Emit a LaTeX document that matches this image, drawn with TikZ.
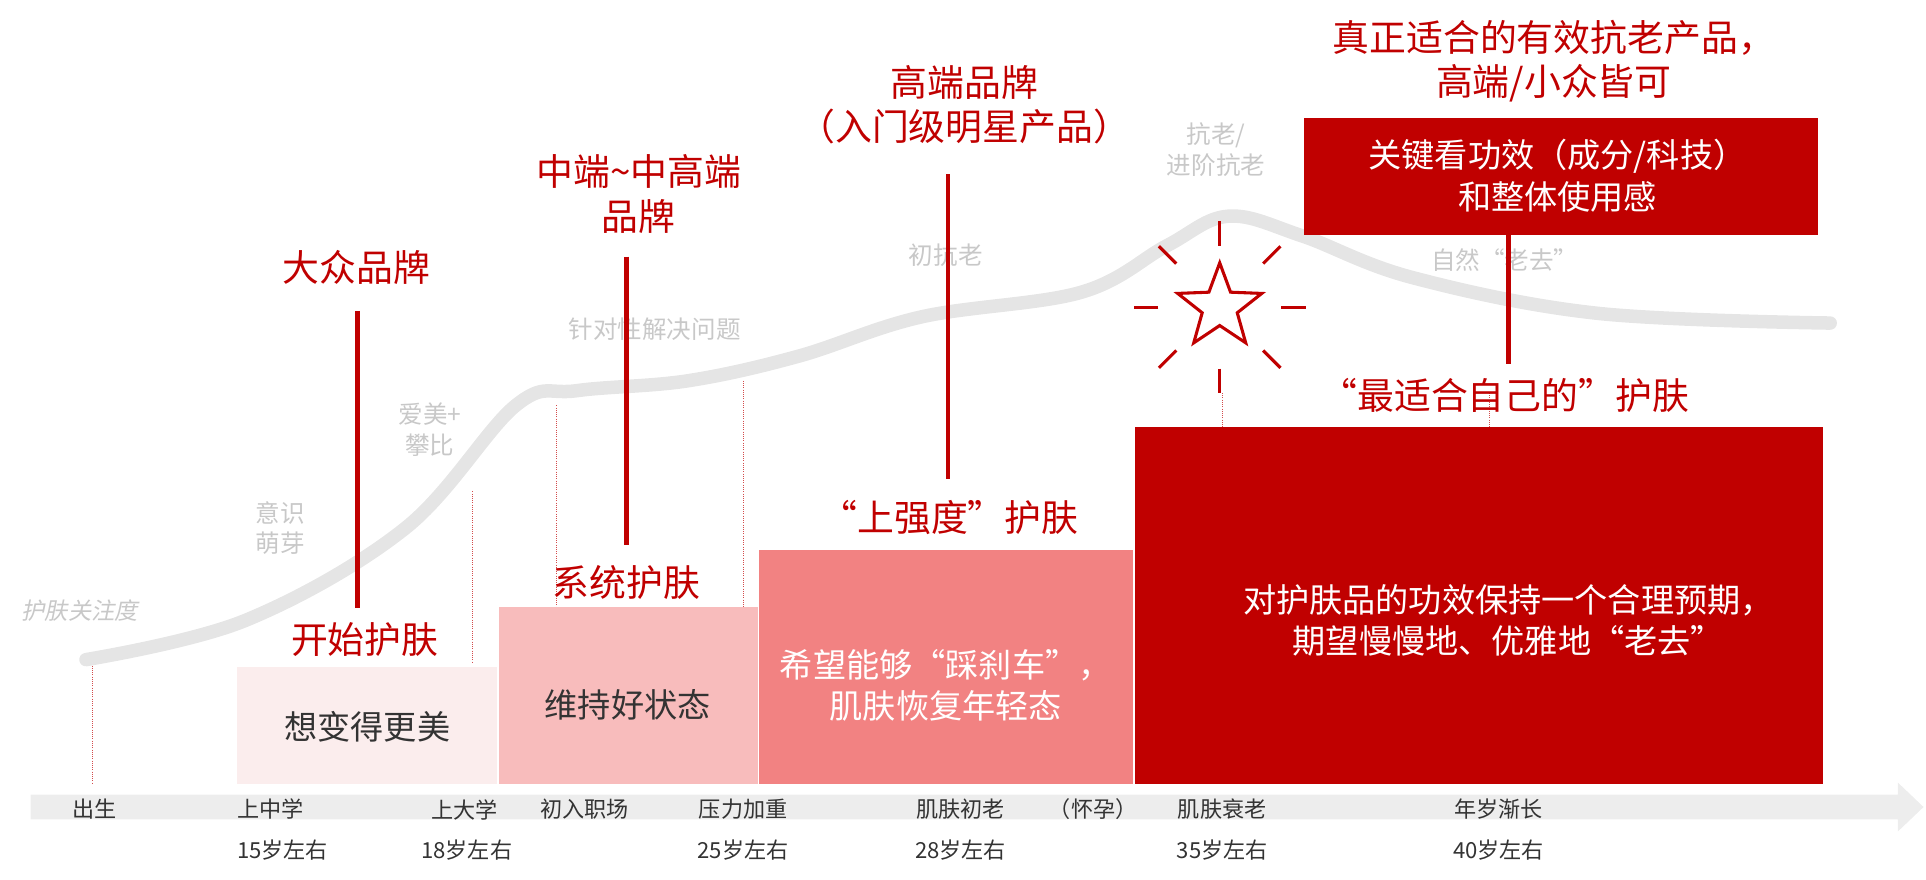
\documentclass[tikz,border=0pt]{standalone}
\usepackage{fontspec}
\setmainfont{Noto Sans CJK SC}
\newfontfamily\slantcjk[FakeSlant=0.2]{Noto Sans CJK SC}
\usetikzlibrary{shapes.geometric}
\definecolor{myred}{HTML}{C00000}
\definecolor{lg}{HTML}{C8C8C8}
\definecolor{pk1}{HTML}{F8BCBC}
\definecolor{pk2}{HTML}{F28282}
\begin{document}
\begin{tikzpicture}[x=1pt,y=-1pt,
 ax/.style={font=\fontsize{18}{20}\selectfont,text=black!80},
 gl/.style={font=\fontsize{20}{25}\selectfont,text=lg,align=center},
 rl/.style={font=\fontsize{30}{36}\selectfont,text=myred,align=center},
 bt/.style={font=\fontsize{27}{34}\selectfont,align=center},
 dl/.style={myred!70,densely dotted,line width=0.8pt},
 vl/.style={myred,line width=3.5pt}]
\useasboundingbox (0,0) rectangle (1568,716);
% axis
\fill[black!7] (25,647) -- (1545,647) -- (1545,637) -- (1566,657) -- (1545,677) -- (1545,667) -- (25,667) -- cycle;
\foreach \x/\t in {77/出生,220/上中学,378/上大学,476/初入职场,605/压力加重,782/肌肤初老,890/（怀孕）,995/肌肤衰老,1220/年岁渐长}
  \node[ax] at (\x,659) {\t};
\foreach \x/\t in {230/15岁左右,380/18岁左右,605/25岁左右,782/28岁左右,995/35岁左右,1220/40岁左右}
  \node[ax] at (\x,692) {\t};
% dotted lines
\foreach \x/\a/\b in {75/540/638,385/400/540,453/330/495,605/310/495,995/320/348,1213/320/348}
  \draw[dl] (\x,\a) -- (\x,\b);
% curve
\draw[black!10,line width=11pt,line cap=round] plot[smooth,tension=0.6] coordinates {(70,537) (200,505) (330,430) (420,330) (470,318) (560,310) (650,290) (750,258) (880,238) (950,200) (1000,176) (1060,192) (1150,226) (1300,255) (1490,263)};
% grey labels
\node[gl,font=\fontsize{19}{22}\selectfont\slantcjk] at (65,497) {护肤关注度};
\node[gl] at (228,430) {意识\\萌芽};
\node[gl] at (350,350) {爱美+\\攀比};
\node[gl] at (533,268) {针对性解决问题};
\node[gl] at (770,208) {初抗老};
\node[gl] at (990,122) {抗老/\\进阶抗老};
\node[gl] at (1225,212) {自然“老去”};
% boxes
\fill[myred!7] (193,543) rectangle (405,638);
\node[bt,text=black!80] (b1) at (299,592) {想变得更美};
\fill[pk1] (406,494) rectangle (617,638);
\node[bt,text=black!80] (b2) at (511,574) {维持好状态};
\fill[pk2] (618,448) rectangle (922,638);
\node[bt,text=white] (b3) at (770,558) {希望能够“踩刹车”，\\肌肤恢复年轻态};
\fill[myred] (924,348) rectangle (1484,638);
\node[bt,text=white] (b4) at (1228,505) {对护肤品的功效保持一个合理预期，\\期望慢慢地、优雅地“老去”};
\fill[myred] (1062,96) rectangle (1480,191);
\node[bt,text=white] (b5) at (1268,143) {关键看功效（成分/科技）\\和整体使用感};
% red labels
\node[rl] (l1) at (297,521) {开始护肤};
\node[rl] (l2) at (510,474) {系统护肤};
\node[rl] (l3) at (773,421) {“上强度”护肤};
\node[rl] (l4) at (1225,322) {“最适合自己的”护肤};
\node[rl] (t1) at (290,218) {大众品牌};
\node[rl] (t2) at (520,158) {中端\textasciitilde 中高端\\品牌};
\node[rl] (t3) at (785,85) {高端品牌\\（入门级明星产品）};
\node[rl] (t4) at (1265,50) {真正适合的有效抗老产品，\\高端/小众皆可};
\draw[vl] (291,253) -- (291,495);
\draw[vl] (510,209) -- (510,444);
\draw[vl] (772,142) -- (772,390);
\draw[vl] (1228,185) -- (1228,296);
% star
\node[star,star points=5,star point ratio=2.4,draw=myred,line width=2.5pt,minimum size=72pt,inner sep=0pt] (st) at (993,250) {};
\foreach \a in {0,45,...,315}
  \draw[myred,line width=2.5pt] (993,250) ++(\a:50) -- ++(\a:20);
\end{tikzpicture}
\end{document}
